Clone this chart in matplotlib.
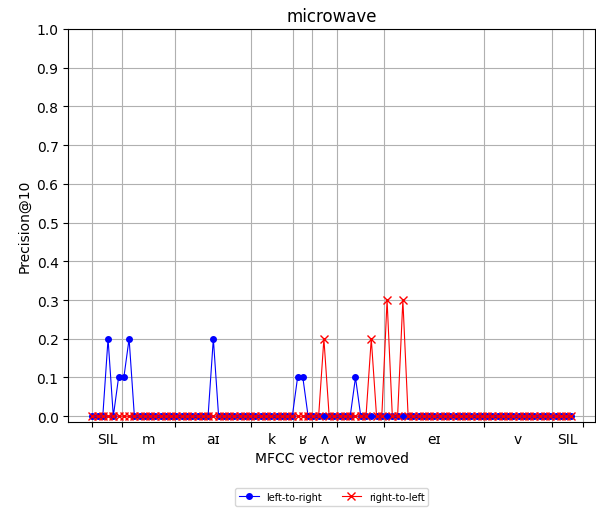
import matplotlib
matplotlib.use("Agg")
import matplotlib.pyplot as plt
import numpy as np

n_vectors = 92
ltr_peaks = {3: 0.2, 5: 0.1, 6: 0.1, 7: 0.2, 23: 0.2, 39: 0.1, 40: 0.1, 50: 0.1}
rtl_peaks = {44: 0.2, 53: 0.2, 56: 0.3, 59: 0.3}

left_to_right = [ltr_peaks.get(i, 0.0) for i in range(n_vectors)]
right_to_left = [rtl_peaks.get(i, 0.0) for i in range(n_vectors)]

phone_boundaries = [0, 5.7, 15.7, 30.14, 38.18, 41.67, 46.53, 55.4, 74.39, 87.37, 93.14]
phone_labels = ["SIL", "m", "aɪ", "k", "ʁ", "ʌ", "w", "eɪ", "v", "SIL"]

fig = plt.figure(figsize=(5.96, 5.10), dpi=100)
ax = fig.add_axes([0.1146, 0.1706, 0.8842, 0.7706])

x = np.arange(n_vectors)
ax.plot(x, left_to_right, color="blue", marker="o", markersize=4, linewidth=0.8, label="left-to-right")
ax.plot(x, right_to_left, color="red", marker="x", markersize=6, linewidth=0.8, label="right-to-left")

ax.set_ylim(top=1.0)
ax.set_yticks(np.arange(0, 1.01, 0.1))
ax.set_xticks(phone_boundaries)
ax.set_xticklabels([])
centers = [(phone_boundaries[i] + phone_boundaries[i + 1]) / 2 for i in range(len(phone_labels))]
ax.set_xticks(centers, minor=True)
ax.set_xticklabels(phone_labels, minor=True)
ax.tick_params(axis="x", which="minor", length=0, pad=7)
ax.grid(True, which="major")

ax.set_title("microwave")
ax.set_xlabel("MFCC vector removed")
ax.set_ylabel("Precision@10")
ax.legend(loc="upper center", bbox_to_anchor=(0.5, -0.155), ncol=2, fontsize=7)

fig.savefig("out.png", dpi=100)
